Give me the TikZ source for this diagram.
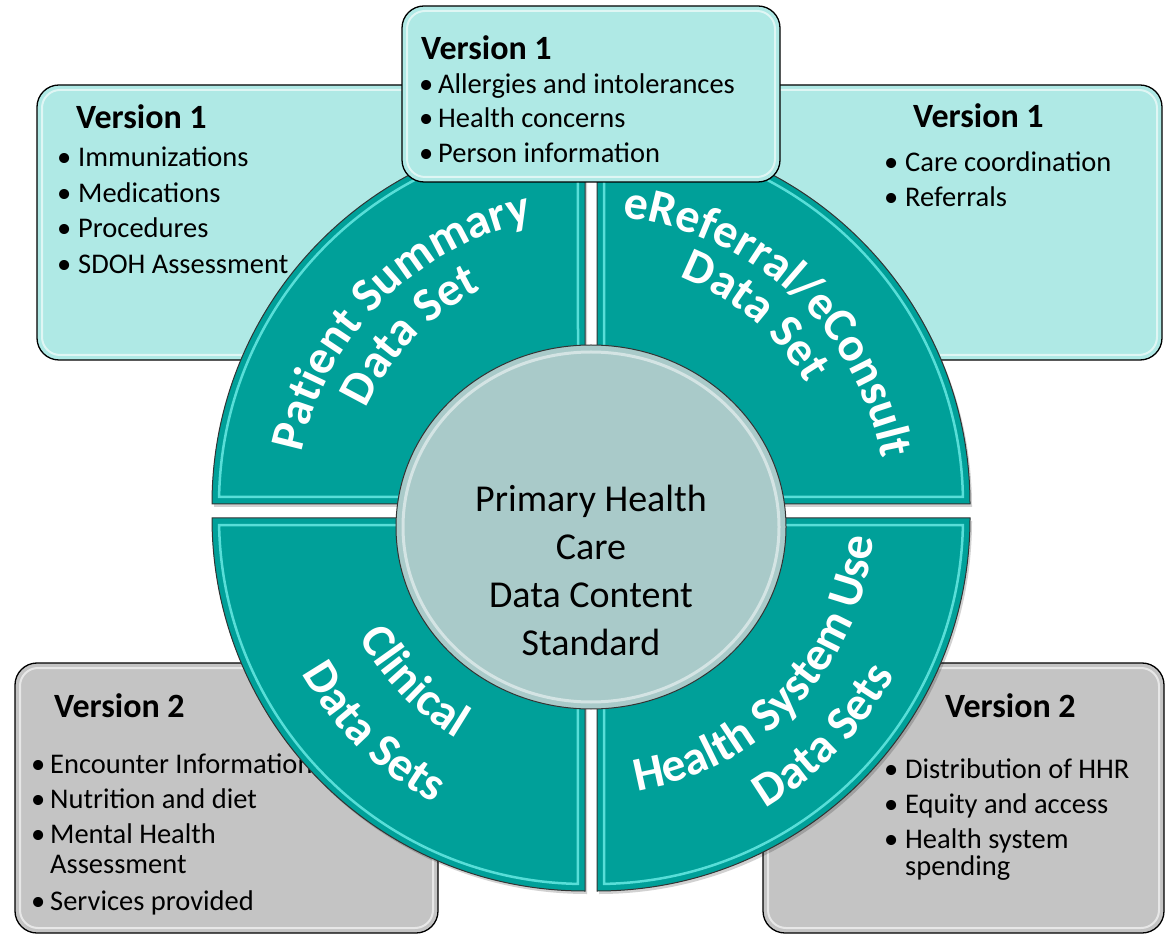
\documentclass[tikz,border=0pt]{standalone}
\usepackage{fontspec}
\setmainfont{Carlito}
\usetikzlibrary{decorations.text}
\definecolor{ringteal}{RGB}{0,160,153}
\definecolor{ringhi}{RGB}{110,238,232}
\definecolor{boxcyan}{RGB}{175,233,229}
\definecolor{boxgray}{RGB}{196,196,196}
\definecolor{hubfill}{RGB}{169,202,201}
\newcommand\ringfont{\fontsize{48}{48}\selectfont\bfseries}
\newcommand\bodyfont{\fontsize{28.5}{34}\selectfont}
\newcommand\headfont{\fontsize{34}{38}\selectfont\bfseries}
\newcommand\hubfont{\fontsize{38}{46}\selectfont}
\newcommand\bitem[2]{\makebox[#1][l]{\textbullet}#2}
\begin{document}
\begin{tikzpicture}[x=1pt,y=1pt,
  infobox/.style={draw=black, line width=1.3pt, rounded corners=22pt},
  boxhi/.style={draw=white, line width=2pt, opacity=0.6, rounded corners=18pt},
  quad/.style={fill=ringteal, draw=black!80, line width=1pt},
  quadhi/.style={draw=ringhi, line width=2.5pt, opacity=0.8},
  txt/.style={anchor=base west, inner sep=0pt, font=\bodyfont},
  head/.style={anchor=base west, inner sep=0pt, font=\headfont},
  hubtxt/.style={anchor=base, inner sep=0pt, font=\hubfont},
  ringlabel/.style={decorate, decoration={text along path, text align=center, text color=white, text={|\ringfont|#1}}}
]
\useasboundingbox (0,0) rectangle (1166,935);
\coordinate (C) at (591,424);

% side boxes
\filldraw[infobox, fill=boxcyan] (37,575) rectangle (440,850);
\draw[boxhi] (42,580) rectangle (435,845);
\filldraw[infobox, fill=boxcyan] (750,575) rectangle (1162,850);
\draw[boxhi] (755,580) rectangle (1157,845);
\filldraw[infobox, fill=boxgray] (15,2) rectangle (438,272);
\draw[boxhi] (20,7) rectangle (433,267);
\filldraw[infobox, fill=boxgray] (763,2) rectangle (1164,272);
\draw[boxhi] (768,7) rectangle (1159,267);

% texts of side boxes
\node[head] (tlh) at (76,806) {Version 1};
\node[txt] (tl1) at (57,768) {\bitem{21pt}{Immunizations}};
\node[txt] (tl2) at (57,732) {\bitem{21pt}{Medications}};
\node[txt] (tl3) at (57,697) {\bitem{21pt}{Procedures}};
\node[txt] (tl4) at (57,661) {\bitem{21pt}{SDOH Assessment}};

\node[head] (trh) at (913,807) {Version 1};
\node[txt] (tr1) at (884,763) {\bitem{21pt}{Care coordination}};
\node[txt] (tr2) at (884,728) {\bitem{21pt}{Referrals}};

\node[head] (blh) at (54,218) {Version 2};
\node[txt] (bl1) at (31,162) {\bitem{19pt}{Encounter Information}};
\node[txt] (bl2) at (31,127) {\bitem{19pt}{Nutrition and diet}};
\node[txt] (bl3) at (31,92) {\bitem{19pt}{Mental Health}};
\node[txt] (bl4) at (50,62) {Assessment};
\node[txt] (bl5) at (31,25) {\bitem{19pt}{Services provided}};

\node[head] (brh) at (945,218) {Version 2};
\node[txt] (br1) at (884,157) {\bitem{21pt}{Distribution of HHR}};
\node[txt] (br2) at (884,122) {\bitem{21pt}{Equity and access}};
\node[txt] (br3) at (884,87) {\bitem{21pt}{Health system}};
\node[txt] (br4) at (905,60) {spending};

% ring shadow
\begin{scope}[shift={(2,-3)}, fill=black, opacity=0.18]
\fill (585,431) -- ++(-373,0) arc[start angle=180,end angle=90,radius=373] -- cycle;
\fill (597,431) -- ++(0,373) arc[start angle=90,end angle=0,radius=373] -- cycle;
\fill (585,417) -- ++(-373,0) arc[start angle=180,end angle=270,radius=373] -- cycle;
\fill (597,417) -- ++(0,-373) arc[start angle=270,end angle=360,radius=373] -- cycle;
\end{scope}

% ring quadrants
\filldraw[quad] (585,431) -- ++(-373,0) arc[start angle=180,end angle=90,radius=373] -- cycle;
\filldraw[quad] (597,431) -- ++(0,373) arc[start angle=90,end angle=0,radius=373] -- cycle;
\filldraw[quad] (585,417) -- ++(-373,0) arc[start angle=180,end angle=270,radius=373] -- cycle;
\filldraw[quad] (597,417) -- ++(0,-373) arc[start angle=270,end angle=360,radius=373] -- cycle;
\draw[quadhi] (585,431) ++(178.9:366) arc[start angle=178.9,end angle=91.1,radius=366] -- (578,438) -- cycle;
\draw[quadhi] (597,431) ++(88.9:366) arc[start angle=88.9,end angle=1.1,radius=366] -- (604,438) -- cycle;
\draw[quadhi] (585,417) ++(181.1:366) arc[start angle=181.1,end angle=268.9,radius=366] -- (578,410) -- cycle;
\draw[quadhi] (597,417) ++(271.1:366) arc[start angle=271.1,end angle=358.9,radius=366] -- (604,410) -- cycle;

% ring labels
\path[ringlabel={Patient Summary}] (C) ++(179:295) arc[start angle=179,end angle=91,radius=295];
\path[ringlabel={Data Set}] (C) ++(180:247) arc[start angle=180,end angle=92,radius=247];
\path[ringlabel={eReferral/eConsult}] (C) ++(91:295) arc[start angle=91,end angle=3,radius=295];
\path[ringlabel={Data Set}] (C) ++(94:250) arc[start angle=94,end angle=6,radius=250];
\path[ringlabel={Clinical}] (C) ++(180:264) arc[start angle=180,end angle=268,radius=264];
\path[ringlabel={Data Sets}] (C) ++(181.5:332) arc[start angle=181.5,end angle=269.5,radius=332];
\path[ringlabel={Health System Use}] (C) ++(273:284) arc[start angle=273,end angle=361,radius=284];
\path[ringlabel={Data Sets}] (C) ++(272:345) arc[start angle=272,end angle=360,radius=345];

% hub
\filldraw[fill=hubfill, draw=black!80, line width=1pt] (591,408) ellipse[x radius=195, y radius=182];
\draw[white, opacity=0.5, line width=3pt] (591,408) ellipse[x radius=188, y radius=175];
\node[hubtxt] (hub1) at (591,423) {Primary Health};
\node[hubtxt] (hub2) at (591,376) {Care};
\node[hubtxt] (hub3) at (591,328) {Data Content};
\node[hubtxt] (hub4) at (591,280) {Standard};

% top box
\filldraw[infobox, fill=boxcyan] (402,753) rectangle (780,929);
\draw[boxhi] (407,758) rectangle (775,924);
\node[head] (toph) at (421,875) {Version 1};
\node[txt] (top1) at (419,841) {\bitem{19pt}{Allergies and intolerances}};
\node[txt] (top2) at (419,807) {\bitem{19pt}{Health concerns}};
\node[txt] (top3) at (419,772) {\bitem{19pt}{Person information}};
\end{tikzpicture}
\end{document}
